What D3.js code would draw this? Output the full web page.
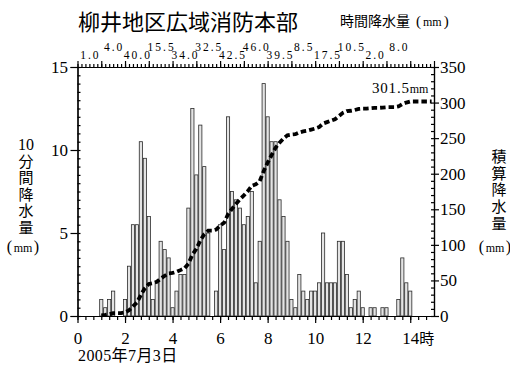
<!DOCTYPE html>
<html><head><meta charset="utf-8">
<script src="https://cdn.jsdelivr.net/npm/d3@7"></script>
<style>body{margin:0;background:#fff} svg{display:block}</style>
</head><body><svg id="c" width="510" height="370"></svg>
<script>
// ---- data ----
const title = "柳井地区広域消防本部";
const hourlyTitle = "時間降水量";
const leftTitle = "分間降水量";
const rightTitle = "積算降水量";
// 10-minute rainfall (mm), from 0:10 to 14:00
const rain10 = [
  0,0,0,0,0,1.0,
  0.5,1.0,1.5,0,0,1.0,
  3.0,5.5,5.5,10.5,9.5,6.0,
  1.0,2.0,4.5,4.0,3.5,0.5,
  1.5,2.5,2.5,6.5,12.5,8.5,
  11.5,9.0,5.0,0,1.5,5.5,
  4.0,12.0,7.5,7.0,6.5,5.5,
  6.0,7.5,2.0,4.5,14.0,12.0,
  10.5,10.5,7.0,6.0,4.5,1.0,
  0.5,2.5,1.5,1.0,1.5,1.5,
  2.0,5.0,2.0,2.0,2.0,4.5,
  4.5,2.5,0.5,1.0,1.5,0.5,
  0,0.5,0.5,0,0.5,0.5,
  0,0,1.0,3.5,2.0,1.5
];
const hourlyTotals = [1.0,4.0,40.0,15.5,34.0,32.5,42.5,46.0,39.5,8.5,17.5,10.5,2.0,8.0];
const xTickHours = [0,2,4,6,8,10,12,14];
const xTickLabels = ["0","2","4","6","8","10","12","14"];
const leftTicks = [0,5,10,15];
const rightTicks = [0,50,100,150,200,250,300,350];
const totalLabel = "301.5";
const dateLabel = "2005年7月3日";

// ---- chart ----
const svg = d3.select("#c");
const serif = "'Liberation Serif','Noto Sans CJK JP',serif";
const cjk = "'Noto Sans CJK JP','Liberation Serif',sans-serif";

const x = d3.scaleLinear().domain([0,15]).range([77.5,434]);
const yL = d3.scaleLinear().domain([0,15]).range([316,67]);
const yR = d3.scaleLinear().domain([0,350]).range([316,67]);

const times = rain10.map((v,i)=>(i+1)/6);
const cum = Array.from(d3.cumsum(rain10));

// bars
svg.append("g").selectAll("rect")
  .data(rain10.map((v,i)=>({t:times[i], v})).filter(d=>d.v>0))
  .join("rect")
  .attr("x", d=>x(d.t)-1.6)
  .attr("width", 3.2)
  .attr("y", d=>yL(d.v))
  .attr("height", d=>yL(0)-yL(d.v))
  .attr("fill", "#e4e4e4")
  .attr("stroke", "#2a2a2a")
  .attr("stroke-width", 0.8);

// axes
function styleAxis(g){
  g.selectAll("path,line").attr("stroke","#000").attr("stroke-width",1.2);
  g.selectAll("text").attr("font-family",serif).attr("fill","#000");
}
// left
svg.append("g").attr("transform",`translate(${x(0)},0)`)
  .call(d3.axisLeft(yL).tickValues(d3.range(0,15.01,0.5)).tickSizeInner(-3).tickSizeOuter(0).tickFormat(""))
  .call(styleAxis);
svg.append("g").attr("transform",`translate(${x(0)},0)`)
  .call(d3.axisLeft(yL).tickValues(leftTicks).tickSize(7).tickPadding(2.5))
  .call(styleAxis).call(g=>g.selectAll("text").attr("font-size",17));
// right
svg.append("g").attr("transform",`translate(${x(15)},0)`)
  .call(d3.axisRight(yR).tickValues(d3.range(0,351,10)).tickSizeInner(-3).tickSizeOuter(0).tickFormat(""))
  .call(styleAxis);
svg.append("g").attr("transform",`translate(${x(15)},0)`)
  .call(d3.axisRight(yR).tickValues(rightTicks).tickSize(5).tickPadding(1))
  .call(styleAxis).call(g=>g.selectAll("text").attr("font-size",17));
// bottom
svg.append("g").attr("transform",`translate(0,${yL(0)})`)
  .call(d3.axisBottom(x).tickValues(d3.range(0,45).map(i=>i/3)).tickSize(4).tickSizeOuter(0).tickFormat(""))
  .call(styleAxis);
svg.append("g").attr("transform",`translate(0,${yL(0)})`)
  .call(d3.axisBottom(x).tickValues(xTickHours).tickSize(7).tickSizeOuter(0).tickPadding(9)
        .tickFormat((d,i)=>xTickLabels[i]))
  .call(styleAxis).call(g=>{g.selectAll("text").attr("font-size",17); g.select(".domain").remove();});
svg.append("text").attr("x",x(14)+9).attr("y",344).attr("font-family",cjk).attr("font-size",15).text("時");
// top
svg.append("g").attr("transform",`translate(0,${yL(15)})`)
  .call(d3.axisTop(x).tickValues(d3.range(0,90).map(i=>i/6)).tickSize(3).tickSizeOuter(0).tickFormat(""))
  .call(styleAxis);
svg.append("g").attr("transform",`translate(0,${yL(15)})`)
  .call(d3.axisTop(x).tickValues(d3.range(0,16)).tickSize(6).tickSizeOuter(0).tickFormat(""))
  .call(styleAxis).call(g=>g.select(".domain").remove());

// hourly totals on top
svg.append("g").selectAll("text").data(hourlyTotals).join("text")
  .attr("x",(d,i)=>x(i+0.5)+1)
  .attr("y",(d,i)=> i%2===0 ? 58.5 : 51)
  .attr("text-anchor","middle")
  .attr("font-family",serif).attr("font-size",11.5).attr("letter-spacing",2)
  .text(d=>d.toFixed(1));

// cumulative line
const pts = times.map((t,i)=>({t, c:cum[i]})).filter(d=>d.t>=1);
pts.push({t:14.9, c:cum[cum.length-1]});
svg.append("path").datum(pts)
  .attr("d", d3.line().x(d=>x(d.t)).y(d=>yR(d.c)))
  .attr("fill","none").attr("stroke","#000").attr("stroke-width",3.8)
  .attr("stroke-dasharray","5.5,3");

// total label
const tl = svg.append("text").attr("x",372).attr("y",93).attr("font-family",serif).attr("font-size",15).attr("letter-spacing",0.8);
tl.append("tspan").text(totalLabel);
tl.append("tspan").attr("font-size",12).attr("letter-spacing",0).text("mm");

// title
svg.append("text").attr("x",78).attr("y",30).attr("font-family",cjk).attr("font-size",22).text(title);
const ht = svg.append("text").attr("x",340).attr("y",26).attr("font-family",cjk).attr("font-size",14);
ht.append("tspan").text(hourlyTitle);
ht.append("tspan").attr("dx",6).attr("font-family",serif).attr("font-size",15).text("(");
ht.append("tspan").attr("font-family",serif).attr("font-size",12).attr("dx",2).text("mm");
ht.append("tspan").attr("font-family",serif).attr("font-size",15).attr("dx",2).text(")");

// vertical titles
function vText(cx, top, s){
  svg.append("text").attr("x",cx).attr("y",top)
    .style("writing-mode","vertical-rl").style("text-orientation","upright")
    .attr("font-family",cjk).attr("font-size",15).attr("letter-spacing",1.6)
    .text(s);
}
function mmLabel(cx, cy){
  const t = svg.append("text").attr("x",cx).attr("y",cy).attr("text-anchor","middle").attr("font-family",serif).attr("font-size",16);
  t.append("tspan").text("(");
  t.append("tspan").attr("font-size",12).attr("dx",1.5).text("mm");
  t.append("tspan").attr("dx",1.5).text(")");
}
svg.append("text").attr("x",26).attr("y",149.5).attr("text-anchor","middle").attr("font-family",serif).attr("font-size",16).text("10");
vText(26, 153.5, leftTitle);
mmLabel(23, 252);
vText(499, 149, rightTitle);
mmLabel(495, 252);

// date
svg.append("text").attr("x",78).attr("y",361).attr("font-family",serif).attr("font-size",16).attr("letter-spacing",0.4).text(dateLabel);
</script></body></html>
